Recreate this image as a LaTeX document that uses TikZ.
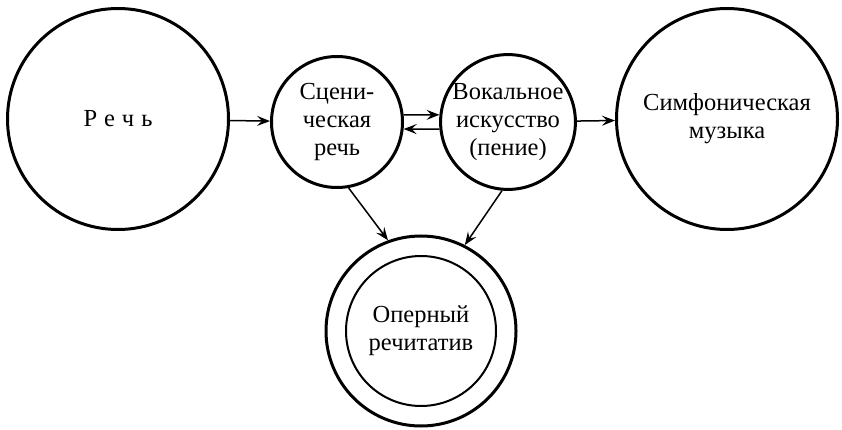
\documentclass[tikz,border=0pt]{standalone}
\usepackage{fontspec}
\setmainfont{Liberation Serif}
\usepackage{tikz}
\usetikzlibrary{arrows.meta,positioning,calc}

\begin{document}
\begin{tikzpicture}[>={Stealth[length=13pt,width=10pt,inset=5pt]}, x=1pt, y=-1pt,
    every node/.style={font=\fontsize{24.5}{28}\selectfont, align=center},
    bigball/.style={draw, circle, line width=3pt, minimum size=221pt, inner sep=0pt},
    smallball/.style={draw, circle, line width=3pt, minimum size=131pt, inner sep=0pt},
    link/.style={->, line width=1.5pt}]
\useasboundingbox (0,0) rectangle (842,430);

% top row
\node[bigball] (rech) at (118,119) {Р\hspace{7pt}е\hspace{7pt}ч\hspace{7pt}ь};
\node[smallball] (scen) at (337,122) {Сцени-\\ческая\\речь};
\node[smallball] (vokal) at (508,122) {Вокальное\\искусство\\(пение)};
\node[bigball] (simf) at (727,119) {Симфоническая\\музыка};

% bottom
\node[draw, circle, line width=3pt, minimum size=190pt] (oper) at (421,331) {};
\node[draw, circle, line width=2pt, minimum size=150pt] (operin) at (oper.center) {Оперный\\речитатив};

\draw[link] (rech) -- (scen);
\draw[link] (scen.6) -- (vokal.174);
\draw[link] (vokal.186) -- (scen.-6);
\draw[link] (vokal) -- (simf);
\draw[link] (scen.-80) -- (oper.110);
\draw[link] (vokal.-95) -- (oper.63);
\end{tikzpicture}
\end{document}
